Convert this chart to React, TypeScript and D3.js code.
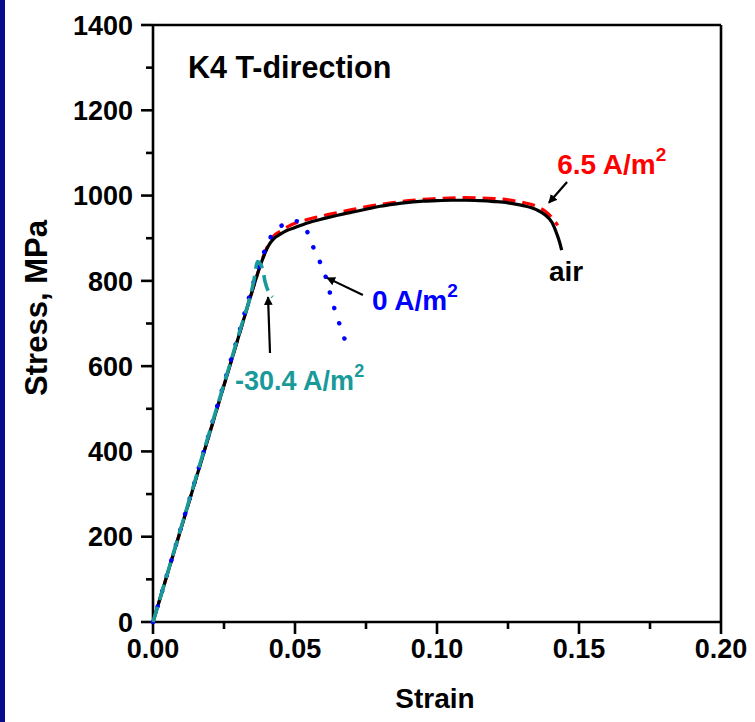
import React from "react";
import * as d3 from "d3";

const W = 755;
const H = 722;

// Stress-strain data
const airStrain = [0, 0.01, 0.02, 0.03, 0.036, 0.038, 0.0395, 0.041, 0.0424, 0.045, 0.0471, 0.05, 0.055, 0.06, 0.065, 0.07, 0.075, 0.08, 0.085, 0.09, 0.095, 0.1, 0.105, 0.11, 0.115, 0.12, 0.125, 0.13, 0.135, 0.138, 0.1405, 0.1422, 0.1432, 0.1439];
const airStress = [0, 222, 444, 666, 799, 840, 866, 886, 898, 910, 918, 925, 937, 946, 954, 961, 968, 975, 980, 984, 987, 988, 989, 989, 988, 986, 983, 977, 967, 955, 937, 910, 890, 872];

const redStrain = [0, 0.01, 0.02, 0.03, 0.036, 0.038, 0.04, 0.042, 0.045, 0.048, 0.05, 0.055, 0.06, 0.065, 0.07, 0.08, 0.09, 0.1, 0.11, 0.12, 0.125, 0.13, 0.135, 0.138, 0.1405, 0.1425];
const redStress = [0, 222, 444, 666, 799, 842, 876, 902, 917, 929, 935, 945, 953, 960, 967, 979, 988, 993, 995, 993, 990, 984, 975, 964, 948, 930];

const blueStrain = [0, 0.01, 0.02, 0.03, 0.0363, 0.0388, 0.0421, 0.0471, 0.0505, 0.0535, 0.0555, 0.0582, 0.0606, 0.0621, 0.0637, 0.0656, 0.0676];
const blueStress = [0, 224, 448, 672, 815, 862, 910, 935, 940, 927, 893, 853, 814, 777, 739, 700, 661];

const tealStrain = [0, 0.01, 0.02, 0.03, 0.0355, 0.0368, 0.0386, 0.0394, 0.0421];
const tealStress = [0, 224, 448, 670, 800, 845, 828, 800, 762];

const xTicks = [0, 0.05, 0.1, 0.15, 0.2];
const xMinor = [0.025, 0.075, 0.125, 0.175];
const yTicks = [0, 200, 400, 600, 800, 1000, 1200, 1400];
const yMinor = [100, 300, 500, 700, 900, 1100, 1300];

const FONT = "'Liberation Sans', Arial, Helvetica, sans-serif";

export default function App() {
  const x = d3.scaleLinear().domain([0, 0.2]).range([153, 721]);
  const y = d3.scaleLinear().domain([0, 1400]).range([622, 25]);

  const mk = (xs: number[], ys: number[]) =>
    d3
      .line<number>()
      .x((_, i) => x(xs[i]))
      .y((_, i) => y(ys[i]))
      .curve(d3.curveMonotoneX)(xs.map((v) => v)) as string;

  const axisStroke = 2.6;
  const majorLen = 12;
  const minorLen = 7;

  const arrows = [
    { x1: 0.1458, y1: 1032, x2: 0.1394, y2: 983 },
    { x1: 0.0739, y1: 767, x2: 0.0613, y2: 807 },
    { x1: 0.0412, y1: 631, x2: 0.0405, y2: 762 },
  ];

  return (
    <svg
      width={W}
      height={H}
      style={{ position: "absolute", left: 0, top: 0, background: "#fff" }}
      fontFamily={FONT}
    >
      <defs>
        <marker id="ah" viewBox="0 0 10 10" refX="9" refY="5" markerWidth="4" markerHeight="4" orient="auto" markerUnits="strokeWidth">
          <path d="M0,0 L10,5 L0,10 z" fill="#000" />
        </marker>
      </defs>
      <rect x={0} y={0} width={W} height={H} fill="#fff" />
      <rect x={0} y={0} width={5} height={H} fill="#0a0a8c" />

      {/* frame */}
      <line x1={x(0)} y1={y(1400)} x2={x(0.2)} y2={y(1400)} stroke="#000" strokeWidth={axisStroke} />
      <line x1={x(0.2)} y1={y(1400)} x2={x(0.2)} y2={y(0)} stroke="#000" strokeWidth={axisStroke} />
      <line x1={x(0)} y1={y(0)} x2={x(0.2)} y2={y(0)} stroke="#000" strokeWidth={axisStroke} />
      <line x1={x(0)} y1={y(0)} x2={x(0)} y2={y(1400)} stroke="#000" strokeWidth={axisStroke} />

      {/* y ticks */}
      {yTicks.map((t) => (
        <g key={"yt" + t}>
          <line x1={x(0) - majorLen} x2={x(0)} y1={y(t)} y2={y(t)} stroke="#000" strokeWidth={axisStroke} />
          <text x={x(0) - 20} y={y(t)} dy="0.36em" textAnchor="end" fontSize={27} fontWeight="bold">
            {t}
          </text>
        </g>
      ))}
      {yMinor.map((t) => (
        <line key={"ym" + t} x1={x(0) - minorLen} x2={x(0)} y1={y(t)} y2={y(t)} stroke="#000" strokeWidth={axisStroke} />
      ))}
      {/* x ticks */}
      {xTicks.map((t) => (
        <g key={"xt" + t}>
          <line x1={x(t)} x2={x(t)} y1={y(0)} y2={y(0) + majorLen} stroke="#000" strokeWidth={axisStroke} />
          <text x={x(t)} y={y(0) + 36} textAnchor="middle" fontSize={27} fontWeight="bold">
            {d3.format(".2f")(t)}
          </text>
        </g>
      ))}
      {xMinor.map((t) => (
        <line key={"xm" + t} x1={x(t)} x2={x(t)} y1={y(0)} y2={y(0) + minorLen} stroke="#000" strokeWidth={axisStroke} />
      ))}

      {/* axis titles */}
      <text x={435} y={708} textAnchor="middle" fontSize={28} fontWeight="bold">
        Strain
      </text>
      <text transform="translate(47,308) rotate(-90)" textAnchor="middle" fontSize={31} fontWeight="bold">
        Stress, MPa
      </text>

      {/* curves */}
      <path d={mk(redStrain, redStress)} fill="none" stroke="#ff0000" strokeWidth={3.2} strokeDasharray="13 7" />
      <path d={mk(airStrain, airStress)} fill="none" stroke="#000" strokeWidth={3.2} />
      <path d={mk(blueStrain, blueStress)} fill="none" stroke="#0000ff" strokeWidth={4.5} strokeDasharray="0.1 16" strokeLinecap="round" />
      <path d={mk(tealStrain, tealStress)} fill="none" stroke="#199a9a" strokeWidth={3.6} strokeDasharray="16 7" />

      {/* arrows */}
      {arrows.map((a, i) => (
        <line key={"ar" + i} x1={x(a.x1)} y1={y(a.y1)} x2={x(a.x2)} y2={y(a.y2)} stroke="#000" strokeWidth={2.2} markerEnd="url(#ah)" />
      ))}

      {/* labels */}
      <text x={x(0.0123)} y={y(1276)} fontSize={30.5} fontWeight="bold">
        K4 T-direction
      </text>
      <text x={x(0.1423)} y={y(1051)} fontSize={28} fontWeight="bold" fill="#ff0000">
        6.5 A/m<tspan fontSize={19} dy={-13}>2</tspan>
      </text>
      <text x={x(0.1394)} y={y(800)} fontSize={28} fontWeight="bold" fill="#000">
        air
      </text>
      <text x={x(0.0771)} y={y(732)} fontSize={28} fontWeight="bold" fill="#0000ff">
        0 A/m<tspan fontSize={19} dy={-13}>2</tspan>
      </text>
      <text x={x(0.0289)} y={y(544)} fontSize={27} fontWeight="bold" fill="#199a9a">
        -30.4 A/m<tspan fontSize={18} dy={-13}>2</tspan>
      </text>
    </svg>
  );
}
